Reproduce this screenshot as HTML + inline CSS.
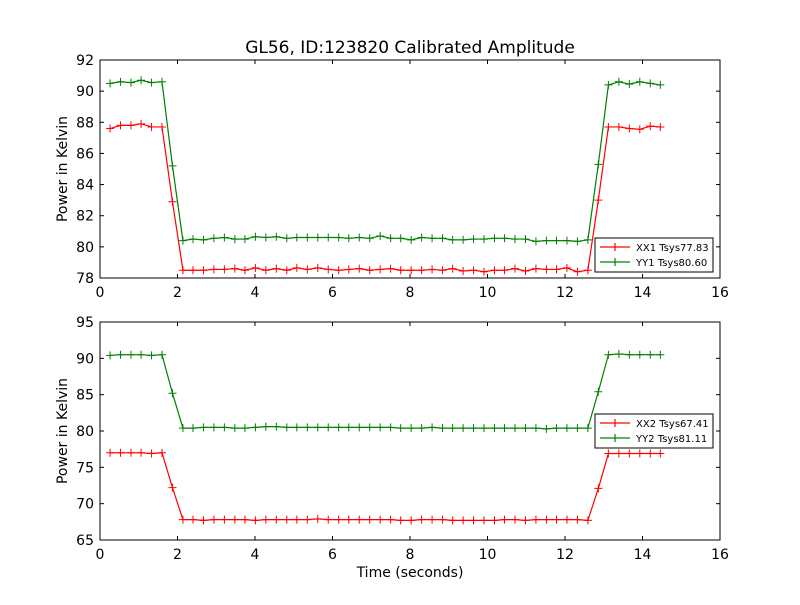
<!DOCTYPE html>
<html><head><meta charset="utf-8"><style>
body{margin:0;background:#fff}
text{font-family:"DejaVu Sans","Liberation Sans",sans-serif}
</style></head><body>
<svg id="c" width="800" height="600" xmlns="http://www.w3.org/2000/svg"></svg>
<script>
const times=[0.26,0.53,0.80,1.06,1.33,1.60,1.87,2.14,2.40,2.67,2.94,3.21,3.48,3.74,4.01,4.28,4.55,4.82,5.08,5.35,5.62,5.89,6.16,6.42,6.69,6.96,7.23,7.50,7.76,8.03,8.30,8.57,8.84,9.10,9.37,9.64,9.91,10.18,10.44,10.71,10.98,11.25,11.52,11.78,12.05,12.32,12.59,12.86,13.12,13.39,13.66,13.93,14.20,14.46];
const xx1=[87.6,87.8,87.8,87.9,87.7,87.7,82.9,78.5,78.5,78.5,78.55,78.55,78.6,78.5,78.65,78.5,78.6,78.5,78.65,78.55,78.65,78.55,78.5,78.55,78.6,78.5,78.55,78.6,78.5,78.5,78.5,78.55,78.5,78.6,78.45,78.5,78.4,78.5,78.5,78.6,78.45,78.6,78.55,78.55,78.65,78.4,78.5,83.0,87.7,87.7,87.6,87.55,87.75,87.7];
const yy1=[90.5,90.6,90.55,90.7,90.55,90.6,85.2,80.4,80.5,80.45,80.55,80.6,80.5,80.5,80.65,80.6,80.65,80.55,80.6,80.6,80.6,80.6,80.6,80.55,80.6,80.55,80.7,80.55,80.55,80.45,80.6,80.55,80.55,80.45,80.45,80.5,80.5,80.55,80.55,80.5,80.5,80.35,80.4,80.4,80.4,80.35,80.45,85.3,90.4,90.6,90.45,90.6,90.5,90.4];
const xx2=[77.0,77.0,77.0,77.0,76.9,77.0,72.2,67.8,67.8,67.7,67.8,67.8,67.8,67.8,67.7,67.8,67.8,67.8,67.8,67.8,67.9,67.8,67.8,67.8,67.8,67.8,67.8,67.8,67.7,67.7,67.8,67.8,67.8,67.7,67.7,67.7,67.7,67.7,67.8,67.8,67.7,67.8,67.8,67.8,67.8,67.8,67.7,72.1,76.9,76.9,76.9,76.9,76.9,76.9];
const yy2=[90.4,90.5,90.5,90.5,90.4,90.5,85.2,80.4,80.4,80.5,80.5,80.5,80.4,80.4,80.5,80.6,80.6,80.5,80.5,80.5,80.5,80.5,80.5,80.5,80.5,80.5,80.5,80.5,80.4,80.4,80.4,80.5,80.4,80.4,80.4,80.4,80.4,80.4,80.4,80.4,80.4,80.4,80.3,80.4,80.4,80.4,80.4,85.4,90.5,90.6,90.5,90.5,90.5,90.5];
const xTicks=[0,2,4,6,8,10,12,14,16];
const yTicksTop=[78,80,82,84,86,88,90,92];
const yTicksBot=[65,70,75,80,85,90,95];
const NS="http://www.w3.org/2000/svg";
const svg=document.getElementById('c');
function mk(tag,attrs,parent){const e=document.createElementNS(NS,tag);for(const k in attrs)e.setAttribute(k,attrs[k]);(parent||svg).appendChild(e);return e;}
function panel(top,bot,ymin,ymax,yt,series,legY,name){
  const L=100,R=720;
  const g=mk('g',{});
  
  
  const sx=v=>L+(v-0)/(16-0)*(R-L);
  const sy=v=>bot-(v-ymin)/(ymax-ymin)*(bot-top);
  mk('rect',{x:L,y:top,width:R-L,height:bot-top,fill:'#fff'},g);
  series.forEach(s=>{
    const pts=times.map((t,i)=>sx(t)+','+sy(s.v[i])).join(' ');
    const pl=mk('polyline',{points:pts,fill:'none',stroke:s.c,'stroke-width':1.2},g);
    
    
    times.forEach((t,i)=>{const x=sx(t),y=sy(s.v[i]);
      mk('path',{d:`M${x-4},${y}H${x+4}M${x},${y-4}V${y+4}`,stroke:s.c,'stroke-width':1},g);});
  });
  xTicks.forEach(v=>{const x=sx(v);
    mk('line',{x1:x,x2:x,y1:bot,y2:bot-4,stroke:'#000'},g);
    mk('line',{x1:x,x2:x,y1:top,y2:top+4,stroke:'#000'},g);
    const t=mk('text',{x:x,y:bot+19,'text-anchor':'middle','font-size':14},g);t.textContent=v;
    });
  yt.forEach(v=>{const y=sy(v);
    mk('line',{x1:L,x2:L+4,y1:y,y2:y,stroke:'#000'},g);
    mk('line',{x1:R,x2:R-4,y1:y,y2:y,stroke:'#000'},g);
    const t=mk('text',{x:L-6,y:y+5,'text-anchor':'end','font-size':14},g);t.textContent=v;
    });
  mk('rect',{x:L,y:top,width:R-L,height:bot-top,fill:'none',stroke:'#000','stroke-width':1},g);
  const yl=mk('text',{x:0,y:0,'text-anchor':'middle','font-size':14,transform:`translate(67,${(top+bot)/2}) rotate(-90)`},g);
  yl.textContent='Power in Kelvin';
  
  const lg=mk('g',{},g);
  
  mk('rect',{x:595,y:legY,width:118,height:34,fill:'#fff',stroke:'#000'},lg);
  series.forEach((s,i)=>{const y=legY+9+i*15;
    mk('path',{d:`M600,${y}H630M615,${y-4}V${y+4}`,stroke:s.c,'stroke-width':1.2},lg);
    const t=mk('text',{x:636,y:y+4,'font-size':10},lg);t.textContent=s.label;
    });
}
panel(60,278,78,92,yTicksTop,[{v:xx1,c:'#ff0000',n:'xx1',label:'XX1 Tsys77.83'},{v:yy1,c:'#008000',n:'yy1',label:'YY1 Tsys80.60'}],238,'top-panel');
panel(322,540,65,95,yTicksBot,[{v:xx2,c:'#ff0000',n:'xx2',label:'XX2 Tsys67.41'},{v:yy2,c:'#008000',n:'yy2',label:'YY2 Tsys81.11'}],414,'bottom-panel');
const ti=mk('text',{x:410,y:53,'text-anchor':'middle','font-size':17});ti.textContent='GL56, ID:123820 Calibrated Amplitude';

const xl=mk('text',{x:410,y:577,'text-anchor':'middle','font-size':14});xl.textContent='Time (seconds)';

</script>
</body></html>
